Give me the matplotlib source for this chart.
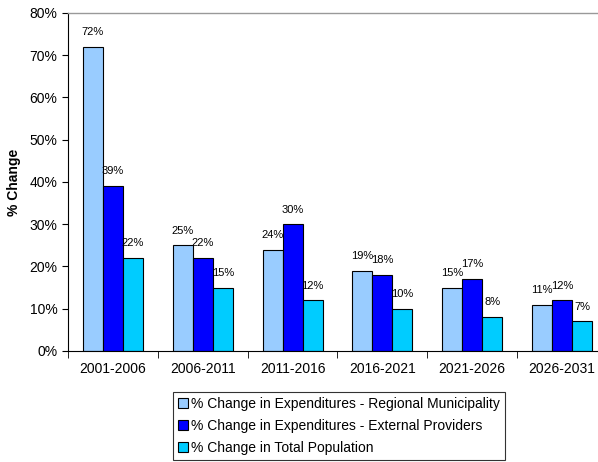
import matplotlib
matplotlib.use('Agg')
import matplotlib.pyplot as plt
import numpy as np
from matplotlib.ticker import FuncFormatter

plt.rcParams['font.family'] = ['Liberation Sans', 'DejaVu Sans']

periods = ['2001-2006', '2006-2011', '2011-2016', '2016-2021', '2021-2026', '2026-2031']
regional = [72, 25, 24, 19, 15, 11]
external = [39, 22, 30, 18, 17, 12]
population = [22, 15, 12, 10, 8, 7]
series_names = ['% Change in Expenditures - Regional Municipality',
                '% Change in Expenditures - External Providers',
                '% Change in Total Population']
colors = ['#99CCFF', '#0000FF', '#00CCFF']

fig = plt.figure(figsize=(5.98, 4.62), dpi=100)
# 右边框伸出画布之外
ax = fig.add_axes([0.1137, 0.2403, 0.9013, 0.7316])

x = np.arange(len(periods))
w = 0.223
for i, (vals, name, c) in enumerate(zip([regional, external, population], series_names, colors)):
    pos = x + (i - 1) * w
    ax.bar(pos, vals, w, color=c, edgecolor='black', linewidth=0.8, label=name)
    for px, v in zip(pos, vals):
        ax.text(px, v + 2.3, f'{v}%', ha='center', va='bottom', fontsize=8)

ax.set_xlim(-0.5, len(periods) - 0.5)
ax.set_ylim(0, 80)
ax.set_yticks(range(0, 81, 10))
ax.yaxis.set_major_formatter(FuncFormatter(lambda v, p: f'{int(v)}%'))
ax.set_xticks(x)
ax.set_xticklabels(periods)
ax.set_xticks(np.arange(-0.5, len(periods)), minor=True)
ax.tick_params(axis='x', which='major', length=0, labelsize=10, pad=8)
ax.tick_params(axis='x', which='minor', length=5, direction='out')
ax.tick_params(axis='y', labelsize=10, length=4, direction='out')
ax.set_ylabel('% Change', fontsize=10, fontweight='bold', labelpad=6)

ax.spines['top'].set_color('#999999')
ax.spines['top'].set_linewidth(1.0)
ax.spines['right'].set_visible(False)
for side in ['left', 'bottom']:
    ax.spines[side].set_color('black')
    ax.spines[side].set_linewidth(0.8)

leg = fig.legend(loc='lower center', bbox_to_anchor=(0.567, 0.004), fontsize=10,
                 frameon=True, fancybox=False, edgecolor='black', handlelength=0.72,
                 handleheight=0.72, handletextpad=0.25, labelspacing=0.58,
                 borderpad=0.35, borderaxespad=0)
leg.get_frame().set_linewidth(0.8)

fig.savefig('out.png', dpi=100)
